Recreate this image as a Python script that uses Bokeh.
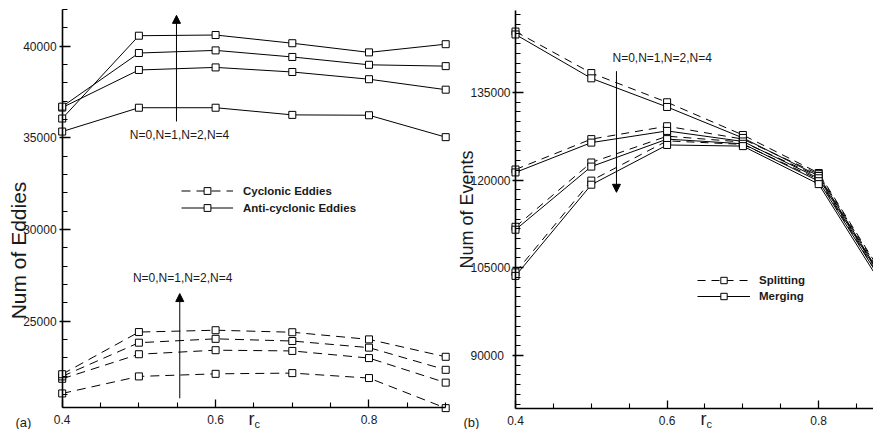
from bokeh.plotting import figure
from bokeh.layouts import row
from bokeh.models import (FixedTicker, Label, Arrow, NormalHead, Legend, LegendItem,
                          Range1d, LinearAxis, BasicTickFormatter)
from bokeh.embed import file_html
from bokeh.resources import INLINE
import math

# ---------------- data ----------------
rc = [0.4, 0.5, 0.6, 0.7, 0.8, 0.9]
n_labels = ["N=0", "N=1", "N=2", "N=4"]

# panel (a): number of eddies
cyc_n0 = [21050, 21980, 22120, 22160, 21890, 20250]
cyc_n1 = [21850, 23190, 23410, 23370, 22980, 21640]
cyc_n2 = [21980, 23820, 24030, 23910, 23550, 22340]
cyc_n4 = [22100, 24400, 24500, 24390, 24000, 23050]
anti_n0 = [35340, 36640, 36640, 36250, 36230, 35035]
anti_n1 = [36650, 38700, 38840, 38590, 38196, 37625]
anti_n2 = [36700, 39625, 39768, 39410, 38982, 38910]
anti_n4 = [36050, 40570, 40607, 40160, 39660, 40107]

# panel (b): number of events
split_n0 = [145400, 138300, 133300, 127700, 121200, 100600]
split_n1 = [121800, 127000, 129200, 127000, 121000, 100300]
split_n2 = [112000, 123000, 127500, 126500, 120600, 99800]
split_n4 = [104200, 119900, 126700, 126100, 120100, 99300]
merge_n0 = [144900, 137400, 132500, 127200, 120700, 100000]
merge_n1 = [121300, 126400, 128400, 126600, 120300, 99700]
merge_n2 = [111500, 122300, 127000, 126200, 119800, 99200]
merge_n4 = [103600, 119200, 126000, 125800, 119300, 98600]

x_major = [0.4, 0.6, 0.8]
x_minor = [0.45, 0.5, 0.55, 0.65, 0.7, 0.75, 0.85, 0.9]
ya_major = [25000, 30000, 35000, 40000]
ya_minor = [v for v in range(21000, 42001, 1000) if v % 5000 != 0]
yb_major = [90000, 105000, 120000, 135000]
yb_minor = [90000 + k * 15000 / 9 for k in range(-5, 36) if k % 9 != 0]

FONT = "Liberation Sans"
TXT = "#1a1a1a"
H = 429


def style_axis(ax):
    ax.axis_line_width = 1.6
    ax.axis_line_color = "black"
    ax.major_tick_line_width = 1.3
    ax.minor_tick_line_width = 1.1
    ax.major_tick_line_color = "black"
    ax.minor_tick_line_color = "black"
    ax.major_label_text_font = FONT
    ax.major_label_text_font_size = "12px"
    ax.major_label_text_color = TXT


def make_fig(width, xr, yr):
    p = figure(width=width, height=H, x_range=Range1d(*xr), y_range=Range1d(*yr),
               output_backend="svg", toolbar_location=None,
               x_axis_type=None, y_axis_type=None,
               min_border_left=0, min_border_right=0,
               min_border_top=0, min_border_bottom=0)
    p.outline_line_color = None
    p.background_fill_color = "white"
    p.border_fill_color = "white"
    return p


def add_axes(p, x_loc, y_bounds, y_major, y_minor, y_standoff):
    # x axis sits at the bottom value of the data, ticks pointing up
    xa = LinearAxis(fixed_location=x_loc, bounds=(0.4, 0.9),
                    ticker=FixedTicker(ticks=x_major, minor_ticks=x_minor))
    style_axis(xa)
    xa.major_tick_out = 8
    xa.major_tick_in = 0
    xa.minor_tick_out = 5
    xa.minor_tick_in = 0
    xa.major_label_standoff = -24
    p.add_layout(xa, "above")
    # y axis sits at r_c = 0.4, ticks pointing right
    ya = LinearAxis(fixed_location=0.4, bounds=y_bounds,
                    ticker=FixedTicker(ticks=y_major, minor_ticks=y_minor),
                    formatter=BasicTickFormatter(use_scientific=False))
    style_axis(ya)
    ya.major_tick_out = 8
    ya.major_tick_in = 3
    ya.minor_tick_out = 5
    ya.minor_tick_in = 0
    ya.major_label_standoff = y_standoff
    p.add_layout(ya, "right")


def series(p, ys, dash):
    return p.line(rc, ys, line_color="black", line_width=1, line_dash=dash)


def marks(p, ys):
    return p.scatter(rc, ys, marker="square", size=7, fill_color="white",
                     line_color="black", line_width=1)


def txt(p, text, x, y, size="12px", **kw):
    p.add_layout(Label(x=x, y=y, text=text, text_font=FONT, text_font_size=size,
                       text_color=TXT, **kw))


def txt_px(p, text, fx, fy, size, **kw):
    # position in pixels from the figure's top-left corner
    p.add_layout(Label(x=fx, y=H - fy, x_units="screen", y_units="screen", text=text,
                       text_font=FONT, text_font_size=size, text_color=TXT, **kw))


def legend(p, items, loc, gw, gh, standoff):
    lg = Legend(items=items, location=loc, glyph_width=gw, glyph_height=gh,
                label_height=gh, label_standoff=standoff, spacing=0, padding=0,
                margin=0, border_line_color=None, background_fill_alpha=0,
                label_text_font=FONT, label_text_font_style="bold",
                label_text_font_size="11.5px", label_text_color=TXT)
    p.add_layout(lg)


def arrow(p, x, y0, y1):
    p.add_layout(Arrow(end=NormalHead(size=8, fill_color="black", line_color="black"),
                       x_start=x, y_start=y0, x_end=x, y_end=y1,
                       line_color="black", line_width=1))


# ---------------- panel (a) ----------------
W1 = 452
p1 = make_fig(W1, (0.31956, 0.90887), (19083, 42491))
add_axes(p1, 20283, (20283, 42000), ya_major, ya_minor, -47)

cyc = [cyc_n0, cyc_n1, cyc_n2, cyc_n4]
anti = [anti_n0, anti_n1, anti_n2, anti_n4]
cl = [series(p1, s, "9 6") for s in cyc]
al = [series(p1, s, "solid") for s in anti]
cm = [marks(p1, s) for s in cyc]
am = [marks(p1, s) for s in anti]

legend(p1, [LegendItem(label="Cyclonic Eddies", renderers=[cl[0], cm[0]]),
            LegendItem(label="Anti-cyclonic Eddies", renderers=[al[0], am[0]])],
       (181, 213), 52, 17, 10)

arrow(p1, 0.549, 35890, 41680)
arrow(p1, 0.5533, 20784, 26500)
txt(p1, ",".join(n_labels), 0.553, 35157, text_align="center", text_baseline="middle")
txt(p1, ",".join(n_labels), 0.557, 27336, text_align="center", text_baseline="middle")

txt_px(p1, "Num of Eddies", 18, 250, "21px", angle=math.pi / 2,
       text_align="center", text_baseline="middle")
txt_px(p1, "r", 248, 428, "18px", text_baseline="bottom")
txt_px(p1, "c", 254, 429, "11px", text_baseline="bottom")
txt_px(p1, "(a)", 15, 429, "13px", text_baseline="bottom")

# ---------------- panel (b) ----------------
W2 = 873 - W1
p2 = make_fig(W2, (0.31689, 0.87230), (77325, 150711))
add_axes(p2, 80917, (80917, 149000), yb_major, yb_minor, -53)

spl = [split_n0, split_n1, split_n2, split_n4]
mer = [merge_n0, merge_n1, merge_n2, merge_n4]
sl = [series(p2, s, "8 6") for s in spl]
ml = [series(p2, s, "solid") for s in mer]
sm = [marks(p2, s) for s in spl]
mm = [marks(p2, s) for s in mer]

legend(p2, [LegendItem(label="Splitting", renderers=[sl[0], sm[0]]),
            LegendItem(label="Merging", renderers=[ml[0], mm[0]])],
       (245, 125), 53, 16, 9)

arrow(p2, 0.5332, 138630, 117900)
txt(p2, ",".join(n_labels), 0.5935, 140890, text_align="center", text_baseline="middle")

txt_px(p2, "Num of Events", 14, 209, "18px", angle=math.pi / 2,
       text_align="center", text_baseline="middle")
txt_px(p2, "r", 248, 428, "18px", text_baseline="bottom")
txt_px(p2, "c", 254, 429, "11px", text_baseline="bottom")
txt_px(p2, "(b)", 11, 429, "13px", text_baseline="bottom")

layout = row(p1, p2)
open("out.html", "w").write(file_html(layout, INLINE))
